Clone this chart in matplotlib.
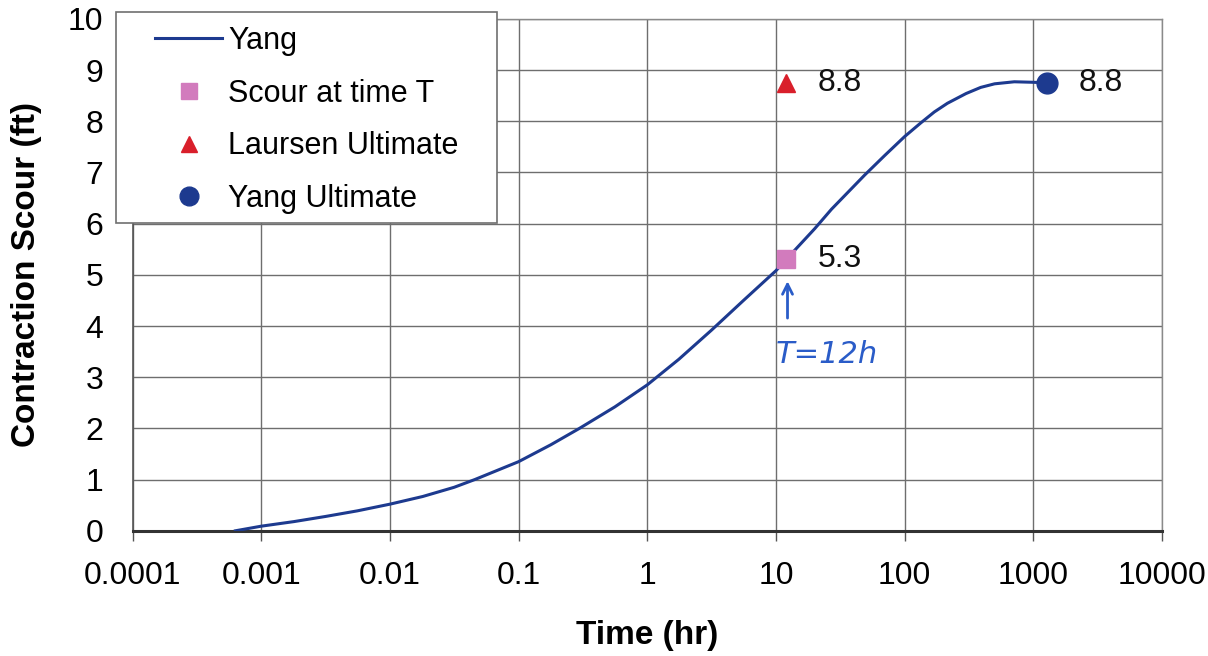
import matplotlib
matplotlib.use("Agg")
import matplotlib.pyplot as plt
from matplotlib.ticker import FixedLocator, FixedFormatter, NullLocator
from matplotlib.patches import Rectangle

# ---- data ----
time_hr = [0.00063, 0.001, 0.0018, 0.00316, 0.0056, 0.01, 0.018, 0.0316, 0.0456, 0.1,
           0.178, 0.297, 0.56, 1.0, 1.76, 3.16, 5.6, 10, 14, 20, 27, 49, 70, 100,
           134, 170, 215, 300, 390, 500, 712, 1000, 1275]
yang_scour = [0.0, 0.09, 0.18, 0.28, 0.39, 0.52, 0.67, 0.85, 1.0, 1.35,
              1.68, 2.0, 2.42, 2.85, 3.35, 3.92, 4.5, 5.08, 5.48, 5.9, 6.28, 6.95, 7.33, 7.70,
              7.97, 8.18, 8.35, 8.54, 8.66, 8.73, 8.77, 8.76, 8.75]

scour_T_time = [12]
scour_T_value = [5.3]
laursen_time = [12]
laursen_value = [8.75]
yang_ult_time = [1275]
yang_ult_value = [8.75]

x_ticks = [0.0001, 0.001, 0.01, 0.1, 1, 10, 100, 1000, 10000]
x_ticklabels = ["0.0001", "0.001", "0.01", "0.1", "1", "10", "100", "1000", "10000"]
y_ticks = list(range(0, 11))

plt.rcParams['font.family'] = ['Liberation Sans', 'DejaVu Sans']

W, H = 1208, 656
fig = plt.figure(figsize=(W / 100, H / 100), dpi=100)
ax_h = 530.8 - 18.8
ax_w = 1162 - 132.5
ax = fig.add_axes([132.5 / W, 1 - 530.8 / H, ax_w / W, ax_h / H])

line_col = "#1d3a8f"
ax.plot(time_hr, yang_scour, color=line_col, lw=2.2, label="Yang", zorder=3,
        solid_joinstyle="round")
ax.plot(scour_T_time, scour_T_value, ls="none", marker="s", ms=13, color="#d27bbd",
        label="Scour at time T", zorder=4)
ax.plot(laursen_time, laursen_value, ls="none", marker="^", ms=13, color="#d91f2b",
        label="Laursen Ultimate", zorder=4)
ax.plot(yang_ult_time, yang_ult_value, ls="none", marker="o", ms=15, color="#1d3a8f",
        label="Yang Ultimate", zorder=4)

ax.set_xscale("log")
ax.set_xlim(0.0001, 10000)
ax.set_ylim(0, 10)
ax.xaxis.set_major_locator(FixedLocator(x_ticks))
ax.xaxis.set_major_formatter(FixedFormatter(x_ticklabels))
ax.xaxis.set_minor_locator(NullLocator())
ax.set_yticks(y_ticks)

ax.grid(True, which="major", color="#6e6e6e", lw=1.0)
ax.set_axisbelow(True)
for s in ["top", "right"]:
    ax.spines[s].set_color("#8a8a8a")
    ax.spines[s].set_linewidth(1.0)
ax.spines["left"].set_color("#555555")
ax.spines["left"].set_linewidth(1.2)
ax.spines["bottom"].set_color("#333333")
ax.spines["bottom"].set_linewidth(2.2)

ax.tick_params(axis="x", length=7, width=1, color="#555555", pad=15, labelsize=23)
ax.tick_params(axis="y", length=0, pad=21, labelsize=23)

ax.set_xlabel("Time (hr)", fontsize=24, fontweight="bold")
ax.set_ylabel("Contraction Scour (ft)", fontsize=24, fontweight="bold")
ax.xaxis.set_label_coords(0.5, -(620 - 530.8) / ax_h)
ax.yaxis.set_label_coords(-(132.5 - 42) / ax_w, 0.5)

# value labels
for xs, ys, lab in [(laursen_time, laursen_value, "8.8"),
                    (scour_T_time, scour_T_value, "5.3"),
                    (yang_ult_time, yang_ult_value, "8.8")]:
    ax.annotate(lab, (xs[0], ys[0]), xytext=(23, 0), textcoords="offset points",
                fontsize=23, va="center", ha="left", color="#111111", zorder=5)

# handwritten note
hand = "#2a5cc8"
ax.annotate("", xy=(12.3, 4.93), xytext=(12.3, 4.1),
            arrowprops=dict(arrowstyle="->", color=hand, lw=2, mutation_scale=18), zorder=5)
ax.text(25, 3.45, "T=12h", color=hand, fontsize=22, ha="center", va="center",
        family=["DejaVu Sans"], style="italic", zorder=5)

# legend box
rect = Rectangle((116 / W, 1 - 223.3 / H), (497 - 116) / W, (223.3 - 11.7) / H,
                 transform=fig.transFigure, facecolor="white", edgecolor="#707070",
                 lw=1.2, zorder=4)
fig.patches.append(rect)
leg = fig.legend(loc="upper left", bbox_to_anchor=(155 / W, 1 - 26 / H),
                 frameon=False, fontsize=22, borderpad=0, borderaxespad=0,
                 handlelength=2.2, handletextpad=0.2, labelspacing=0.74,
                 markerscale=0.9)
leg.set_zorder(6)

fig.savefig("out.png", dpi=100)
